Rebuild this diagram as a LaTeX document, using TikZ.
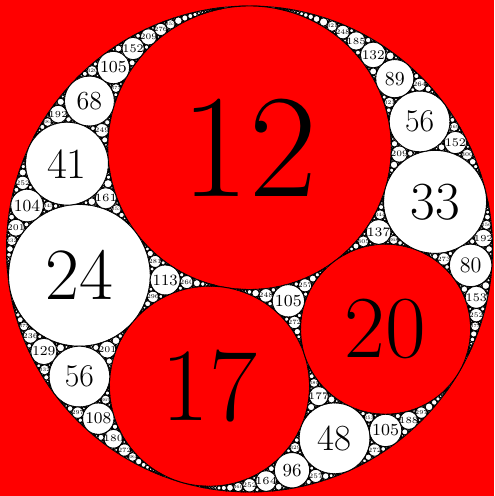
\documentclass[tikz,border=0pt]{standalone}
\usepackage{tikz}

\ExplSyntaxOn
\tl_new:N \l__gasket_x_tl
\tl_new:N \l__gasket_y_tl
\tl_new:N \l__gasket_r_tl
\tl_new:N \l__gasket_f_tl
\int_const:Nn \c__gasket_limit_int { 3000 }
\int_const:Nn \c__gasket_label_int { 400 }

\cs_new_protected:Npn \__gasket_draw:nnnn #1#2#3#4
  {
    \tl_set:Nx \l__gasket_x_tl { \fp_eval:n { round ( 24.3 * (#3) / (#2) , 4 ) } }
    \tl_set:Nx \l__gasket_y_tl { \fp_eval:n { round ( 24.3 * (#4) / (#2) , 4 ) } }
    \tl_set:Nx \l__gasket_r_tl { \fp_eval:n { round ( 850.5 / (#2) , 4 ) } }
    \path [#1] (\l__gasket_x_tl pt , \l__gasket_y_tl pt) circle [radius = \l__gasket_r_tl pt] ;
    \int_compare:nNnT {#2} < { \c__gasket_label_int + 1 }
      {
        \tl_set:Nx \l__gasket_f_tl { \fp_eval:n { round ( 1.04 * \l__gasket_r_tl , 3 ) } }
        \node [numlabel] at (\l__gasket_x_tl pt , \l__gasket_y_tl pt)
          { \fontsize { \l__gasket_f_tl pt } { \l__gasket_f_tl pt } \selectfont #2 } ;
      }
  }

\cs_new:Npn \__gasket_k:n #1 { \use_i:nnn #1 }
\cs_new:Npn \__gasket_x:n #1 { \use_ii:nnn #1 }
\cs_new:Npn \__gasket_y:n #1 { \use_iii:nnn #1 }
\cs_new:Npn \__gasket_flip:Nnnnn #1#2#3#4#5
  { \fp_eval:n { 2 * ( #1 {#3} + #1 {#4} + #1 {#5} ) - #1 {#2} } }

\cs_new_protected:Npn \__gasket_step:nnnn #1#2#3#4
  {
    \use:x
      {
        \exp_not:N \__gasket_new:nnnnnn
          { \__gasket_flip:Nnnnn \__gasket_k:n {#1} {#2} {#3} {#4} }
          { \__gasket_flip:Nnnnn \__gasket_x:n {#1} {#2} {#3} {#4} }
          { \__gasket_flip:Nnnnn \__gasket_y:n {#1} {#2} {#3} {#4} }
          { \exp_not:n {#2} } { \exp_not:n {#3} } { \exp_not:n {#4} }
      }
  }
\cs_new_protected:Npn \__gasket_new:nnnnnn #1#2#3#4#5#6
  {
    \int_compare:nNnF {#1} > \c__gasket_limit_int
      {
        \__gasket_draw:nnnn { disc } {#1} {#2} {#3}
        \__gasket_fill:nnnn {#4} {#5} {#6} { {#1} {#2} {#3} }
      }
  }
\cs_new_protected:Npn \__gasket_fill:nnnn #1#2#3#4
  {
    \__gasket_step:nnnn {#1} {#2} {#3} {#4}
    \__gasket_step:nnnn {#2} {#1} {#3} {#4}
    \__gasket_step:nnnn {#3} {#1} {#2} {#4}
  }

\NewDocumentCommand \gasketcircle { m m m m }
  { \__gasket_draw:nnnn {#1} {#2} {#3} {#4} }
\NewDocumentCommand \gasketgaps { m m m m }
  {
    \__gasket_step:nnnn {#1} {#2} {#3} {#4}
    \__gasket_step:nnnn {#2} {#1} {#3} {#4}
    \__gasket_step:nnnn {#3} {#1} {#2} {#4}
    \__gasket_step:nnnn {#4} {#1} {#2} {#3}
  }
\ExplSyntaxOff

\begin{document}
\begin{tikzpicture}[
  disc/.style={draw=black, fill=white, line width=0.45pt},
  reddisc/.style={disc, fill=red},
  numlabel/.style={inner sep=0pt, text=black},
]
\fill[red] (-124.75pt,-123.5pt) rectangle (122.25pt,124.5pt);
\useasboundingbox (-124.75pt,-123.5pt) rectangle (122.25pt,124.5pt);
\path[disc] (0,0) circle[radius=121.5pt];

\gasketcircle{reddisc}{12}{0}{25}
\gasketcircle{reddisc}{17}{-14}{-48}
\gasketcircle{reddisc}{20}{56}{-33}
\gasketgaps{{-7}{0}{0}}{{12}{0}{25}}{{17}{-14}{-48}}{{20}{56}{-33}}
\end{tikzpicture}
\end{document}
